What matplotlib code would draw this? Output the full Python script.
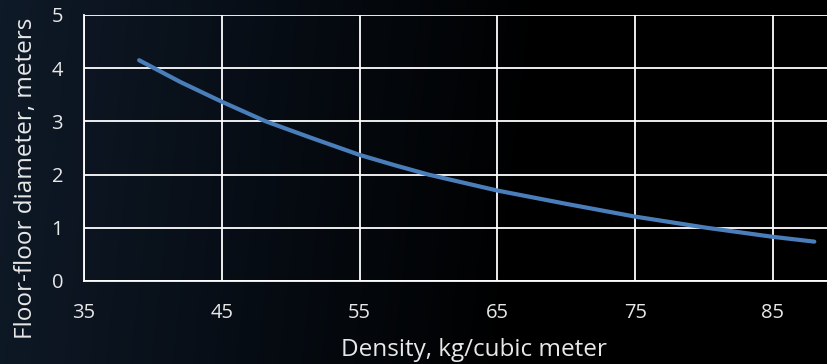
import numpy as np
import matplotlib
matplotlib.use("Agg")
import matplotlib.pyplot as plt
from matplotlib.colors import LinearSegmentedColormap

# Data
density = [39, 42, 45, 48.2, 51.5, 55, 57.5, 60, 65, 70, 75, 80.2, 85, 88]
diameter = [4.15, 3.74, 3.37, 3.00, 2.69, 2.37, 2.18, 2.00, 1.70, 1.45, 1.21, 1.00, 0.83, 0.74]
x_ticks = [35, 45, 55, 65, 75, 85]
y_ticks = [0, 1, 2, 3, 4, 5]
x_label = "Density, kg/cubic meter"
y_label = "Floor-floor diameter, meters"

plt.rcParams['font.family'] = ['Open Sans', 'DejaVu Sans']

fig = plt.figure(figsize=(8.28, 3.64), dpi=100)

# background gradient
bg = fig.add_axes([0, 0, 1, 1], zorder=0)
bg.set_axis_off()
cmap = LinearSegmentedColormap.from_list("bg", ["#0f1a28", "#070d15", "#000000", "#000000"])
gx = np.linspace(0, 1, 400)
gy = np.linspace(0, 1, 100)
GX, GY = np.meshgrid(gx, gy)
grad = np.clip(GX * 1.0 + (1 - GY) * 0.05, 0, 1)
bg.imshow(grad, cmap=cmap, aspect="auto", extent=[0, 1, 0, 1], origin="lower")
bg.set_xlim(0, 1)
bg.set_ylim(0, 1)

ax = fig.add_axes([84 / 828, 83 / 364, 1 - 84 / 828, (281 - 15) / 364], zorder=1)
ax.set_facecolor("none")
ax.plot(density, diameter, color="#4a7ebb", lw=3.0, solid_capstyle="round",
        solid_joinstyle="round", zorder=3)

ax.set_xlim(35, 35 + (828 - 84) / 13.78)
ax.set_ylim(0, 5)
ax.set_xticks(x_ticks)
ax.set_yticks(y_ticks)
ax.grid(True, color="white", lw=1.3, zorder=1)
ax.set_axisbelow(True)
for s in ["top", "right"]:
    ax.spines[s].set_visible(False)
for s in ["left", "bottom"]:
    ax.spines[s].set_color("white")
    ax.spines[s].set_linewidth(1.3)
ax.tick_params(length=0, colors="#e8e8e8", labelsize=14.5)
ax.tick_params(axis="x", pad=16)
ax.tick_params(axis="y", pad=15)

fig.text(474 / 828, 8 / 364, x_label, color="#e8e8e8", fontsize=17.5,
         ha="center", va="baseline")
fig.text(26 / 828, 1 - 178 / 364, y_label, color="#e8e8e8", fontsize=17.5,
         ha="center", va="center", rotation=90)

fig.savefig("out.png", dpi=100, facecolor="black")
